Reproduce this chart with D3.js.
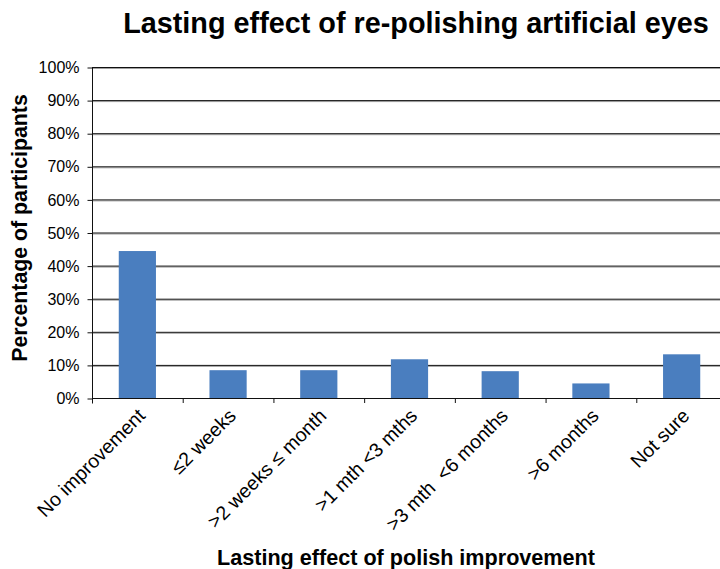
<!DOCTYPE html>
<html>
<head>
<meta charset="utf-8">
<script src="https://cdn.jsdelivr.net/npm/d3@7"></script>
<style>
    body { margin: 0; background: #fff; }
    svg { display: block; font-family: Arial, "Liberation Sans", sans-serif; }
</style>
</head>
<body>
<svg id="chart" width="720" height="569"></svg>
<script>
'use strict';

// data
const categories = ['No improvement', '\u22642 weeks', '>2 weeks \u2264 month', '>1 mth <3 mths', '>3 mth  <6 months', '>6 months', 'Not sure'];
const percents = [44.4, 8.4, 8.4, 11.7, 8.1, 4.4, 13.2];
const yTicks = [0, 10, 20, 30, 40, 50, 60, 70, 80, 90, 100];

const svg = d3.select('#chart');

// plot area
const plotLeft = 92;
const plotRight = 727;
const plotTop = 67;
const plotBottom = 398;

const x = d3.scaleBand()
    .domain(categories)
    .range([plotLeft, plotRight]);

const y = d3.scaleLinear()
    .domain([0, 100])
    .range([plotBottom, plotTop]);

const barWidth = x.bandwidth() * 0.41;

// gridlines (black with a grey shadow under)
svg.selectAll('line.shadow').data(yTicks.slice(1)).enter().append('line')
    .attr('class', 'shadow')
    .attr('x1', plotLeft).attr('x2', 720)
    .attr('y1', (d) => y(d) + 1.5).attr('y2', (d) => y(d) + 1.5)
    .attr('stroke', '#a0a0a0')
    .attr('stroke-width', 1);

svg.selectAll('line.grid').data(yTicks.slice(1)).enter().append('line')
    .attr('class', 'grid')
    .attr('x1', plotLeft).attr('x2', 720)
    .attr('y1', (d) => y(d) + 0.5).attr('y2', (d) => y(d) + 0.5)
    .attr('stroke', '#111')
    .attr('stroke-width', 1);

// bars
svg.selectAll('rect').data(percents).enter().append('rect')
    .attr('x', (d, i) => x(categories[i]) + (x.bandwidth() - barWidth) / 2)
    .attr('y', (d) => y(d))
    .attr('width', barWidth)
    .attr('height', (d) => y(0) - y(d))
    .attr('fill', '#4a7ebf');

// y axis
const yAxis = svg.append('g')
    .attr('transform', 'translate(' + (plotLeft + 0.5) + ',0.5)')
    .call(d3.axisLeft(y).tickValues(yTicks).tickSize(5).tickFormat((d) => d + '%'));
yAxis.select('.domain').attr('stroke', '#111').attr('d', 'M0,' + plotTop + 'V' + (plotBottom + 5));
yAxis.selectAll('.tick line').attr('stroke', '#111');
yAxis.selectAll('.tick text')
    .attr('x', -13)
    .attr('font-size', 16)
    .attr('font-family', 'Arial, "Liberation Sans", sans-serif')
    .attr('fill', '#000');

// x axis baseline and ticks between categories
svg.append('line')
    .attr('x1', plotLeft).attr('x2', 720)
    .attr('y1', plotBottom + 0.5).attr('y2', plotBottom + 0.5)
    .attr('stroke', '#111');

svg.selectAll('line.xtick').data(categories.slice(1)).enter().append('line')
    .attr('class', 'xtick')
    .attr('x1', (d) => x(d) + 0.5).attr('x2', (d) => x(d) + 0.5)
    .attr('y1', plotBottom).attr('y2', plotBottom + 5)
    .attr('stroke', '#111');

// category labels, rotated
svg.selectAll('text.cat').data(categories).enter().append('text')
    .attr('class', 'cat')
    .attr('transform', (d) => 'translate(' + (x(d) + x.bandwidth() / 2 + 9) + ',' + (plotBottom + 19) + ') rotate(-45)')
    .attr('text-anchor', 'end')
    .attr('font-size', 19.5)
    .style('white-space', 'pre')
    .text((d) => d);

// titles
svg.append('text')
    .attr('x', 416).attr('y', 33)
    .attr('text-anchor', 'middle')
    .attr('font-size', 28.8)
    .attr('font-weight', 'bold')
    .text('Lasting effect of re-polishing artificial eyes');

svg.append('text')
    .attr('transform', 'translate(27,228) rotate(-90)')
    .attr('text-anchor', 'middle')
    .attr('font-size', 21.3)
    .attr('font-weight', 'bold')
    .text('Percentage of participants');

svg.append('text')
    .attr('x', 406).attr('y', 565)
    .attr('text-anchor', 'middle')
    .attr('font-size', 21.6)
    .attr('font-weight', 'bold')
    .text('Lasting effect of polish improvement');
</script>
</body>
</html>
